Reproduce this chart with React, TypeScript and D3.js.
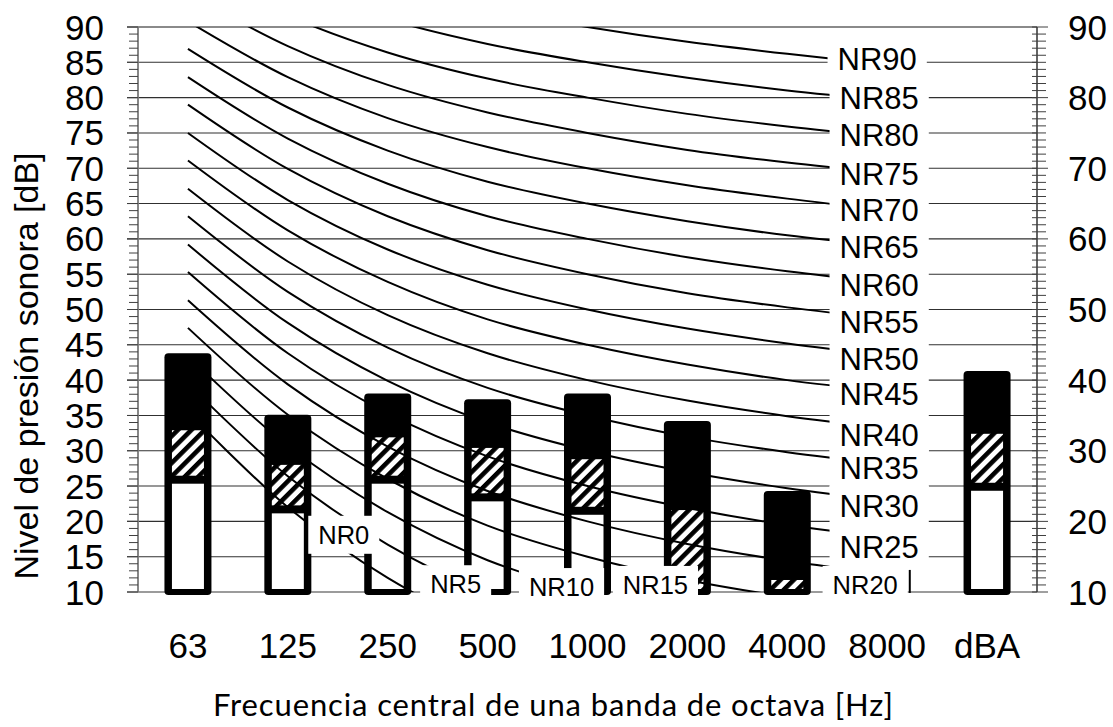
import React from 'react';
import * as d3 from 'd3';

// ---------- data ----------
const freqLabels = ['63', '125', '250', '500', '1000', '2000', '4000', '8000'];
const categories = [...freqLabels, 'dBA'];

// measured bar levels [dB]
const barTop: (number | null)[] = [43.8, 35.1, 38.1, 37.3, 38.1, 34.2, 24.3, null, 41.3];
const barHatch: (number | null)[] = [32.9, 28.0, 31.9, 30.4, 28.8, 21.6, 11.7, null, 32.4];
const barWhite: (number | null)[] = [25.9, 21.7, 25.9, 23.4, 21.5, null, null, null, 24.9];

// NR curves (63 ... 8000 Hz)
const nr0 = [35.5, 22.0, 12.0, 4.8, 0, -3.5, -6.1, -8.0];
const nr5 = [39.5, 26.4, 16.7, 9.7, 5, 1.6, -1.0, -2.9];
const nr10 = [43.4, 30.7, 21.3, 14.5, 10, 6.7, 4.2, 2.3];
const nr15 = [47.4, 35.1, 26.0, 19.4, 15, 11.7, 9.3, 7.5];
const nr20 = [51.3, 39.4, 30.6, 24.3, 20, 16.8, 14.4, 12.6];
const nr25 = [55.3, 43.8, 35.3, 29.2, 25, 21.9, 19.5, 17.8];
const nr30 = [59.2, 48.1, 39.9, 34.0, 30, 27.0, 24.7, 22.9];
const nr35 = [63.2, 52.5, 44.6, 38.9, 35, 32.0, 29.8, 28.1];
const nr40 = [67.1, 56.8, 49.2, 43.8, 40, 37.1, 34.9, 33.2];
const nr45 = [71.1, 61.2, 53.9, 48.6, 45, 42.2, 40.0, 38.4];
const nr50 = [75.0, 65.5, 58.5, 53.5, 50, 47.3, 45.2, 43.5];
const nr55 = [79.0, 69.9, 63.2, 58.4, 55, 52.3, 50.3, 48.7];
const nr60 = [82.9, 74.2, 67.8, 63.2, 60, 57.4, 55.4, 53.8];
const nr65 = [86.9, 78.6, 72.5, 68.1, 65, 62.5, 60.5, 59.0];
const nr70 = [90.8, 82.9, 77.1, 73.0, 70, 67.6, 65.7, 64.1];
const nr75 = [94.8, 87.3, 81.8, 77.9, 75, 72.6, 70.8, 69.3];
const nr80 = [98.7, 91.6, 86.4, 82.7, 80, 77.7, 75.9, 74.4];
const nr85 = [102.7, 96.0, 91.1, 87.6, 85, 82.8, 81.0, 79.6];
const nr90 = [106.6, 100.3, 95.7, 92.5, 90, 87.9, 86.2, 84.7];
const nrCurves = [nr0, nr5, nr10, nr15, nr20, nr25, nr30, nr35, nr40, nr45, nr50, nr55, nr60, nr65, nr70, nr75, nr80, nr85, nr90];

const nrLabelText = ['NR0', 'NR5', 'NR10', 'NR15', 'NR20', 'NR25', 'NR30', 'NR35', 'NR40', 'NR45', 'NR50', 'NR55', 'NR60', 'NR65', 'NR70', 'NR75', 'NR80', 'NR85', 'NR90'];
// label position in category steps from the 63 Hz centre
const nrLabelPos = [1.56, 2.68, 3.74, 4.68, 6.78, 6.92, 6.92, 6.92, 6.92, 6.92, 6.92, 6.92, 6.92, 6.92, 6.92, 6.92, 6.92, 6.92, 6.9];
// label level [dB]
const nrLabelLevel = [18.1, 11.1, 10.7, 11.0, 11.0, 16.4, 22.2, 27.6, 32.3, 38.0, 43.0, 48.3, 53.5, 58.9, 64.1, 69.2, 74.7, 80.0, 85.5];

const leftTicks = [10, 15, 20, 25, 30, 35, 40, 45, 50, 55, 60, 65, 70, 75, 80, 85, 90];
const rightTicks = [10, 20, 30, 40, 50, 60, 70, 80, 90];

const yTitle = 'Nivel de presión sonora [dB]';
const xTitle = 'Frecuencia central de una banda de octava [Hz]';

// ---------- layout ----------
const W = 1113;
const H = 727;
const PL = 138;
const PR = 1037;
const PT = 27;
const PB = 592;
const ARIAL = '"Liberation Sans", Arial, sans-serif';

const x = d3.scaleBand<string>().domain(categories).range([PL, PR]).padding(0);
const y = d3.scaleLinear().domain([10, 90]).range([PB, PT]);
const cx = (c: string) => (x(c) as number) + x.bandwidth() / 2;

const charW: Record<string, number> = { N: 0.722, R: 0.722 };
const textW = (s: string, fs: number) =>
  s.split('').reduce((a, ch) => a + (charW[ch] ?? 0.556), 0) * fs;

export default function App() {
  const line = d3
    .line<number>()
    .x((_, i) => cx(freqLabels[i]))
    .y((d) => y(d))
    .curve(d3.curveCatmullRom.alpha(0.5));

  const minor = d3.range(10, 91, 1);
  const barHalf = 23.5;
  const inner = 16;
  const sep = 4;

  return (
    <svg
      width={W}
      height={H}
      style={{ position: 'absolute', left: 0, top: 0, background: '#fff' }}
      xmlns="http://www.w3.org/2000/svg"
    >
      <defs>
        <pattern id="hatch" patternUnits="userSpaceOnUse" width={9.5} height={9.5} patternTransform="rotate(45)">
          <rect width={9.5} height={9.5} fill="#fff" />
          <rect width={4.6} height={9.5} fill="#000" />
        </pattern>
        <clipPath id="plotClip">
          <rect x={PL} y={PT} width={PR - PL} height={PB - PT} />
        </clipPath>
      </defs>
      <rect width={W} height={H} fill="#fff" />

      {/* gridlines */}
      {leftTicks.map((v) => (
        <line
          key={'g' + v}
          x1={127}
          x2={PR}
          y1={y(v)}
          y2={y(v)}
          stroke={v === 90 ? '#8a8a8a' : v === 10 ? '#7a7a7a' : '#303030'}
          strokeWidth={v === 90 ? 2.2 : v === 10 ? 1.6 : 1.1}
        />
      ))}

      {/* left axis */}
      <line x1={PL} x2={PL} y1={PT} y2={PB} stroke="#7a7a7a" strokeWidth={1.8} />
      {minor.map((v) => (
        <line key={'lm' + v} x1={v % 5 === 0 ? 127 : 129} x2={PL} y1={y(v)} y2={y(v)} stroke="#404040" strokeWidth={1} />
      ))}
      {/* right axis */}
      <line x1={PR} x2={PR} y1={PT} y2={PB} stroke="#303030" strokeWidth={1.5} />
      {minor.map((v) => (
        <line key={'rm' + v} x1={1032} x2={v % 10 === 0 ? 1048 : 1046} y1={y(v)} y2={y(v)} stroke="#404040" strokeWidth={1} />
      ))}

      {/* bars */}
      {categories.map((c, i) => {
        const t = barTop[i];
        if (t == null) return null;
        const xc = cx(c);
        const h = barHatch[i];
        const w = barWhite[i];
        const bottom = y(10);
        return (
          <g key={'b' + c}>
            <rect x={xc - barHalf} y={y(t)} width={barHalf * 2} height={bottom + 3 - y(t)} rx={4} fill="#000" />
            {h != null && (
              <rect
                x={xc - inner}
                y={y(h)}
                width={inner * 2}
                height={(w != null ? y(w) - sep : bottom - 3) - y(h)}
                fill="url(#hatch)"
              />
            )}
            {w != null && (
              <rect x={xc - inner} y={y(w) + sep} width={inner * 2} height={bottom - 3 - (y(w) + sep)} fill="#fff" />
            )}
          </g>
        );
      })}

      {/* NR curves */}
      <g clipPath="url(#plotClip)">
        {nrCurves.map((d, i) => (
          <path key={'nr' + i} d={line(d) as string} fill="none" stroke="#000" strokeWidth={2} />
        ))}
      </g>

      {/* NR labels */}
      {nrLabelText.map((s, i) => {
        const small = i <= 4;
        const fs = small ? 25.5 : 31;
        const lx = cx(freqLabels[0]) + nrLabelPos[i] * x.step();
        const ly = y(nrLabelLevel[i]);
        const tw = textW(s, fs);
        const bw = tw + 20;
        const bh = small ? 38 : 40;
        return (
          <g key={'lab' + s}>
            <rect x={lx - bw / 2} y={ly - bh / 2} width={bw} height={bh} fill="#fff" />
            <text x={lx} y={ly + 0.358 * fs} fontFamily={ARIAL} fontSize={fs} textAnchor="middle" fill="#000">
              {s}
            </text>
            {s === 'NR20' && (
              <line x1={lx + bw / 2 + 2} x2={lx + bw / 2 + 2} y1={ly - 15} y2={ly + 8} stroke="#000" strokeWidth={2} />
            )}
          </g>
        );
      })}

      {/* tick labels */}
      {leftTicks.map((v) => (
        <text key={'lt' + v} x={104} y={y(v) + 12.5} fontFamily={ARIAL} fontSize={35} textAnchor="end" fill="#000">
          {v}
        </text>
      ))}
      {rightTicks.map((v) => (
        <text key={'rt' + v} x={1068} y={y(v) + 12.5} fontFamily={ARIAL} fontSize={35} textAnchor="start" fill="#000">
          {v}
        </text>
      ))}
      {categories.map((c) => (
        <text key={'xt' + c} x={cx(c)} y={658} fontFamily={ARIAL} fontSize={35} textAnchor="middle" fill="#000">
          {c}
        </text>
      ))}

      {/* axis titles */}
      <text
        transform={`translate(38, 366) rotate(-90)`}
        fontFamily={ARIAL}
        fontSize={34}
        textAnchor="middle"
        fill="#000"
      >
        {yTitle}
      </text>
      <text
        x={553}
        y={716}
        fontFamily='Lato, "Open Sans", sans-serif'
        fontSize={31}
        textAnchor="middle"
        textLength={680}
        lengthAdjust="spacing"
        fill="#000"
      >
        {xTitle}
      </text>
    </svg>
  );
}
